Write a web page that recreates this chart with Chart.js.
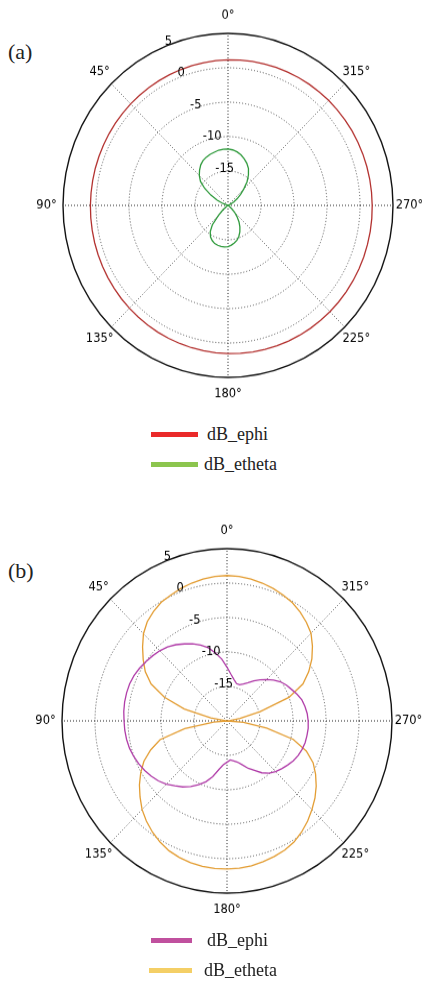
<!DOCTYPE html>
<html>
<head>
<meta charset="utf-8">
<script src="https://cdn.jsdelivr.net/npm/chart.js@4.4.1/dist/chart.umd.min.js"></script>
<style>
  html, body { margin: 0; padding: 0; background: #fff; overflow: hidden; }
  body { width: 422px; height: 981px; position: relative; }
  canvas { position: absolute; left: 0; }
  .tag { position: absolute; left: 8px; font: 22px "Liberation Serif", serif; line-height: 22px; color: #222; }
  .row { position: absolute; left: 0; height: 20px; display: flex; align-items: center;
         font: 18px "Liberation Serif", serif; color: #222; }
  .row i { position: absolute; height: 5px; top: 7.5px; }
  .row span { position: absolute; white-space: nowrap; }
</style>
</head>
<body>
<div class="tag" style="top:41px">(a)</div>
<canvas id="chartA" width="422" height="400" style="top:0px;width:422px;height:417px"></canvas>
<div class="row" style="top:424px"><i style="left:151px;width:47px;background:#ea2a2a"></i><span style="left:207px">dB_ephi</span></div>
<div class="row" style="top:454px"><i style="left:151px;width:47px;background:#8cc54e"></i><span style="left:204px">dB_etheta</span></div>

<div class="tag" style="top:560px">(b)</div>
<canvas id="chartB" width="422" height="410" style="top:510px;width:422px;height:428px"></canvas>
<div class="row" style="top:930px"><i style="left:151px;width:41px;background:#c0509e"></i><span style="left:207px">dB_ephi</span></div>
<div class="row" style="top:960px"><i style="left:149px;width:43px;background:#f4cf66"></i><span style="left:204px">dB_etheta</span></div>

<script>
// angles 0..355 step 5, counter-clockwise from the top (0° up, 90° left)
const thetaDeg = [0,5,10,15,20,25,30,35,40,45,50,55,60,65,70,75,80,85,
  90,95,100,105,110,115,120,125,130,135,140,145,150,155,160,165,170,175,
  180,185,190,195,200,205,210,215,220,225,230,235,240,245,250,255,260,265,
  270,275,280,285,290,295,300,305,310,315,320,325,330,335,340,345,350,355];

const angleTicks = [0, 45, 90, 135, 180, 225, 270, 315];
const radialTicks = [-15, -10, -5, 0, 5];

// panel (a)
const aEphi = [1.16,1.11,1.07,1.03,1.0,0.96,0.93,0.9,0.88,0.86,0.84,0.83,
  0.82,0.81,0.81,0.82,0.82,0.83,0.85,0.87,0.89,0.92,0.95,0.98,
  1.01,1.05,1.09,1.13,1.18,1.22,1.27,1.32,1.36,1.41,1.45,1.5,
  1.54,1.59,1.63,1.67,1.7,1.74,1.77,1.8,1.82,1.84,1.86,1.87,
  1.88,1.89,1.89,1.88,1.88,1.87,1.85,1.83,1.81,1.78,1.75,1.72,
  1.69,1.65,1.61,1.57,1.52,1.48,1.43,1.38,1.34,1.29,1.25,1.2];
const aEtheta = [-11.8,-11.8,-11.85,-12.0,-12.1,-12.25,-12.45,-12.8,-13.3,-13.85,-14.55,-15.7,
  -17.0,-18.2,-19.2,-20,-20,-20,-20,-20,-20,-20,-20,-20,
  -20,-19.8,-19.0,-18.0,-16.3,-15.3,-14.7,-14.35,-14.1,-14.0,-13.95,-13.95,
  -14.0,-14.2,-14.45,-14.75,-15.2,-15.75,-16.4,-17.1,-17.9,-18.6,-19.3,-19.8,
  -20,-20,-20,-20,-20,-20,-20,-20,-20,-20,-20,-19.6,
  -19.0,-18.3,-17.5,-16.6,-15.5,-14.6,-13.8,-13.25,-12.8,-12.4,-12.1,-11.9];

// panel (b)
const bEphi = [-12.2,-11.0,-10.0,-9.0,-8.3,-7.65,-7.1,-6.5,-6.0,-5.6,-5.3,-5.0,
  -4.7,-4.45,-4.3,-4.25,-4.25,-4.3,-4.4,-4.45,-4.55,-4.7,-4.95,-5.25,
  -5.6,-6.0,-6.45,-7.0,-7.7,-8.3,-9.0,-9.8,-10.6,-11.6,-12.8,-13.6,
  -14.0,-14.3,-14.1,-13.8,-13.2,-12.4,-11.7,-10.8,-10.1,-9.6,-9.2,-8.8,
  -8.4,-8.1,-7.9,-7.75,-7.7,-7.65,-7.7,-7.8,-8.0,-8.25,-8.7,-9.2,
  -9.6,-10.1,-10.8,-11.5,-12.2,-12.9,-13.6,-14.1,-14.4,-14.4,-13.9,-13.2];
const bEtheta = [1.1,1.05,0.9,0.7,0.45,0.15,-0.1,-0.6,-1.2,-2.1,-3.3,-4.5,
  -5.7,-7.3,-9.9,-13.3,-17.5,-19.8,-20,-18.0,-13.5,-9.5,-7.7,-6.1,
  -4.9,-3.8,-2.8,-1.8,-1.0,-0.3,0.3,0.8,1.1,1.3,1.45,1.5,
  1.5,1.45,1.35,1.15,0.95,0.7,0.3,-0.3,-1.0,-1.8,-2.6,-3.5,
  -4.5,-5.6,-7.2,-9.6,-13.9,-17.5,-20,-19.5,-18.0,-14.8,-10.0,-7.3,
  -5.7,-4.3,-3.1,-2.0,-1.3,-0.7,-0.2,0.15,0.45,0.7,0.9,1.05];

// Chart.js goes clockwise, so spoke i shows angle (360 - 5i)
const n = thetaDeg.length;
const spokeLabels = thetaDeg.map((_, i) => thetaDeg[(n - i) % n]);
const toSpokes = arr => spokeLabels.map((_, i) => arr[(n - i) % n]);
const spokeOf = deg => ((360 - deg) % 360) / 5;

const polarText = {
  id: 'polarText',
  afterDraw(chart) {
    const r = chart.scales.r;
    const ctx = chart.ctx;
    ctx.save();
    ctx.font = '11.5px "DejaVu Sans"';
    ctx.fillStyle = '#000';
    ctx.textAlign = 'center';
    ctx.textBaseline = 'middle';
    angleTicks.forEach(a => {
      const p = r.getPointPosition(spokeOf(a), r.drawingArea * 1.1);
      ctx.fillText(a + '°', p.x, p.y);
    });
    ctx.textAlign = 'left';
    ctx.textBaseline = 'bottom';
    radialTicks.forEach(v => {
      const p = r.getPointPosition(spokeOf(22.5), r.getDistanceFromCenterForValue(v));
      ctx.fillText(String(v), p.x, p.y + 1);
    });
    ctx.restore();
  }
};

function makePolar(id, series, colors, pad) {
  new Chart(document.getElementById(id), {
    type: 'radar',
    data: {
      labels: spokeLabels,
      datasets: series.map((s, k) => ({
        data: toSpokes(s),
        borderColor: colors[k],
        borderWidth: 1.3,
        fill: false,
        pointRadius: 0,
        tension: 0
      }))
    },
    options: {
      responsive: false,
      animation: false,
      layout: { padding: pad },
      plugins: { legend: { display: false }, tooltip: { enabled: false } },
      scales: {
        r: {
          min: -20,
          max: 5,
          ticks: { display: false, stepSize: 5 },
          pointLabels: { display: false },
          grid: {
            circular: true,
            color: c => c.tick.value === 5 ? '#111' : '#4a4a4a',
            lineWidth: c => c.tick.value === 5 ? 1.4 : 1
          },
          border: { dash: c => c.tick.value === 5 ? [] : [1, 2] },
          angleLines: {
            color: c => c.index % 18 === 0 ? '#222' : '#555',
            lineWidth: c => c.index % 9 === 0 ? 1 : 0,
            borderDash: [1, 2]
          }
        }
      }
    },
    plugins: [polarText]
  });
}

makePolar('chartA', [aEphi, aEtheta], ['#b3312f', '#2f9a3c'],
  { left: 63, right: 29, top: 32, bottom: 38 });
makePolar('chartB', [bEphi, bEtheta], ['#b03ca8', '#e39d33'],
  { left: 62, right: 30, top: 37, bottom: 43 });
</script>
</body>
</html>
